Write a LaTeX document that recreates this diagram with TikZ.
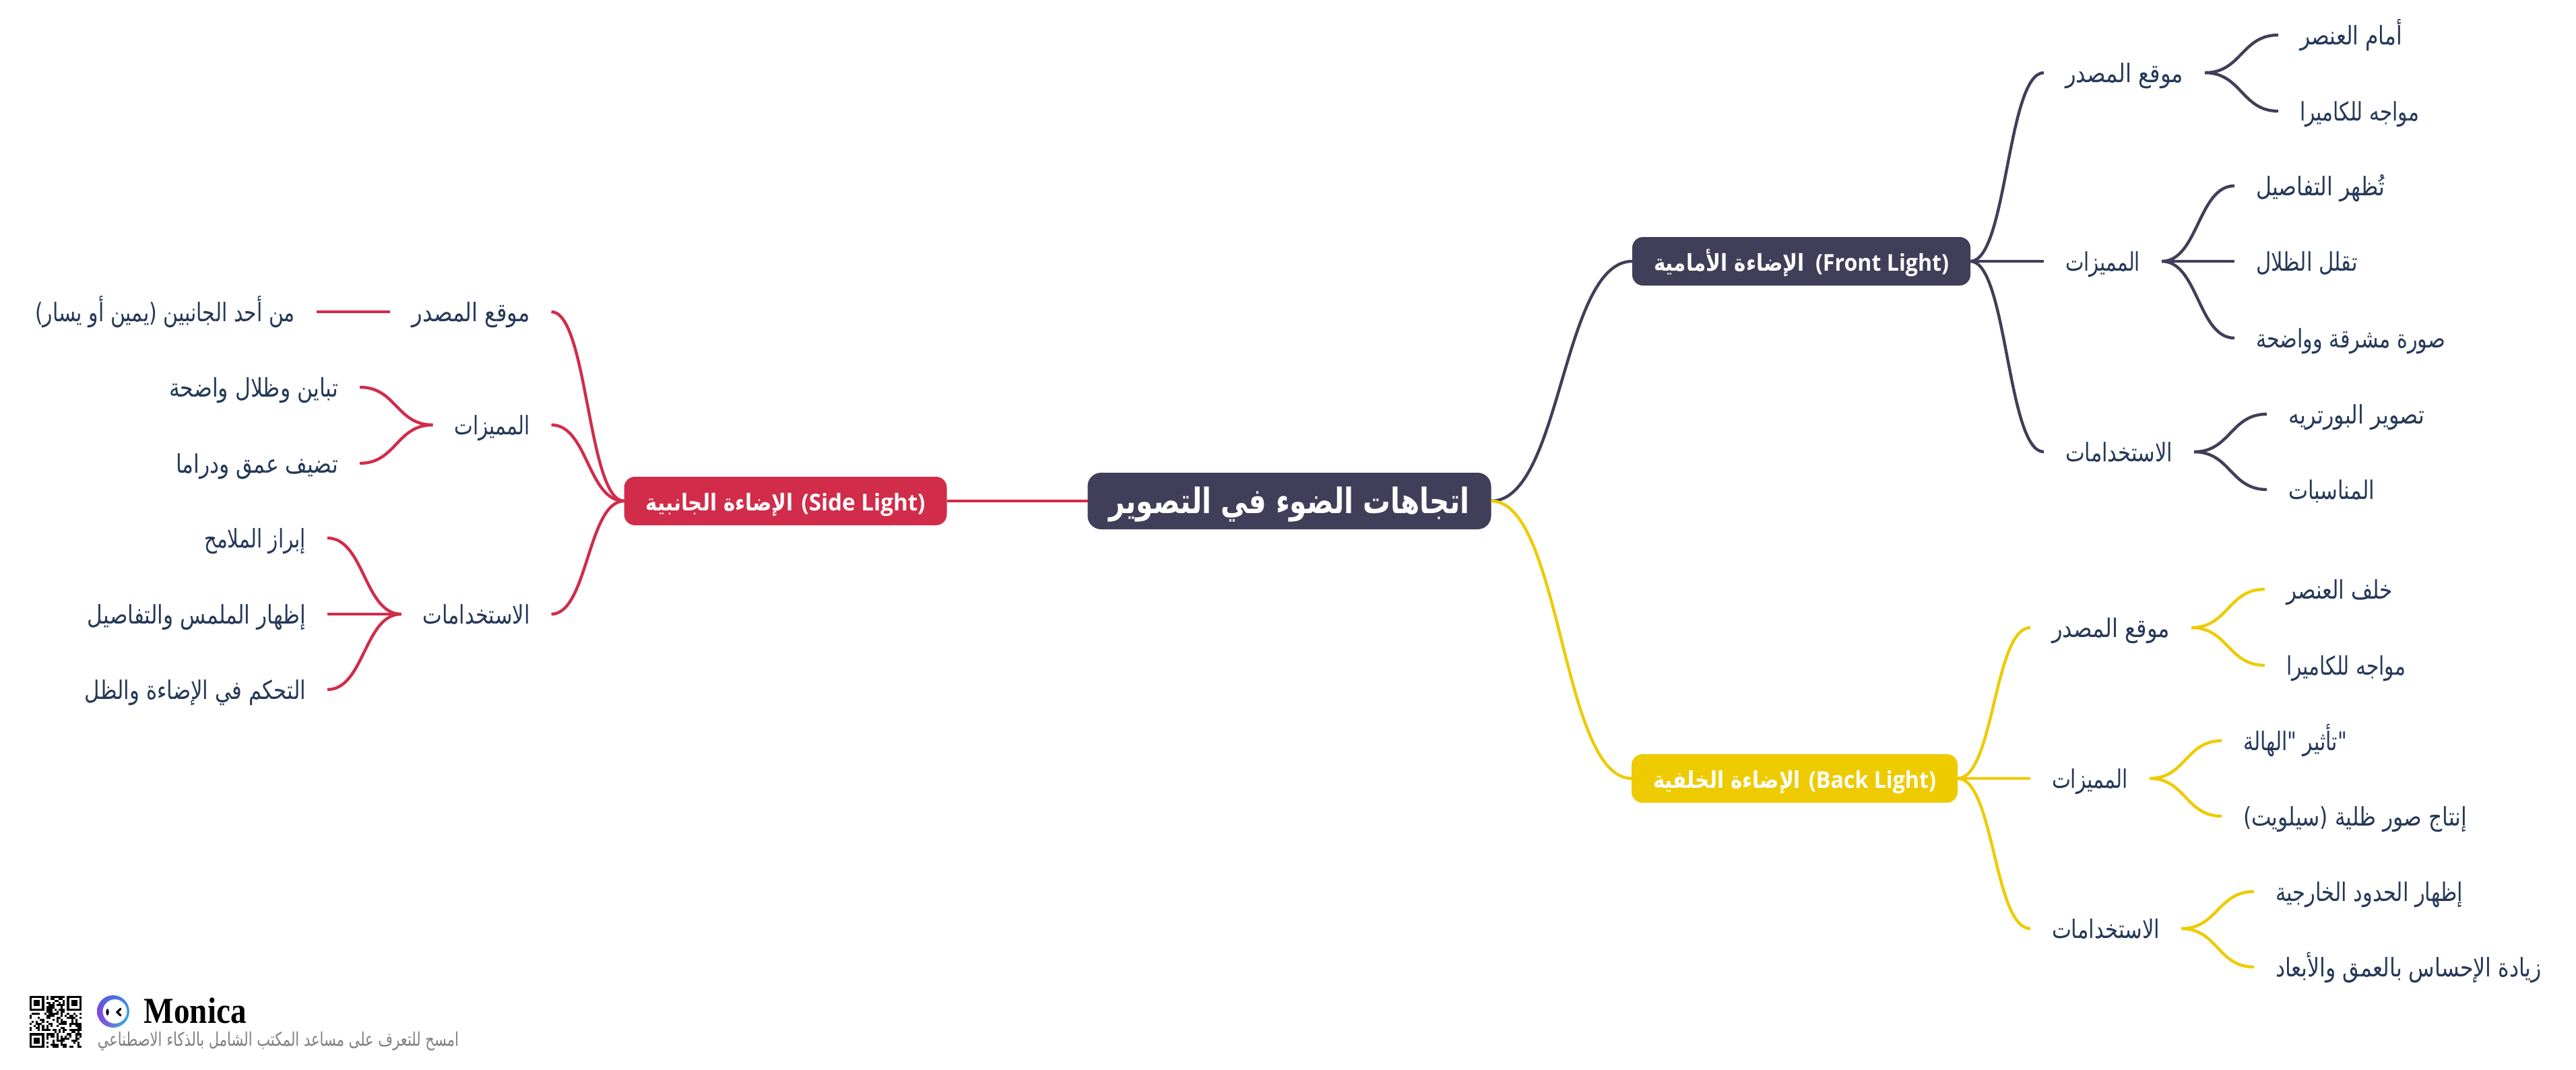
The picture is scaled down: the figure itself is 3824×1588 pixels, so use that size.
\documentclass[tikz,border=0pt]{standalone}
\usepackage{fontspec}
\usepackage{graphicx}
\usetikzlibrary{calc,shadings}
\TeXXeTstate=1
\setmainfont{Open Sans}
\newfontfamily\arabicfont[Script=Arabic]{DejaVu Sans}
\newfontfamily\serifbold{Liberation Serif}
\newcommand{\fitw}[2]{\resizebox{\dimexpr #1pt/4\relax}{\height}{#2}}
\newcommand{\arb}[1]{{\arabicfont\beginR #1\endR}}
\definecolor{navy}{HTML}{403E58}
\definecolor{crim}{HTML}{D12C4A}
\definecolor{gold}{HTML}{EECB00}
\definecolor{ink}{HTML}{253858}
\tikzset{
  link/.style={line width=1.1pt,draw=#1,to path={let \p1=(\tikztostart),\p2=(\tikztotarget),\n1={0.5*(\x1+\x2)} in .. controls (\n1,\y1) and (\n1,\y2) .. (\tikztotarget) \tikztonodes}},
  leaf/.style={inner xsep=8pt,inner ysep=0pt,outer sep=0pt,text=ink,font=\fontsize{9.5}{11}\selectfont,text height=10pt,text depth=3pt},
  main/.style={fill=#1,rounded corners=4pt,inner xsep=8pt,inner ysep=0pt,outer sep=0pt,minimum height=18pt,text=white,font=\fontsize{8.6}{10}\selectfont\bfseries,text height=10pt,text depth=3pt},
  rootbox/.style={fill=navy,rounded corners=5pt,inner xsep=8pt,inner ysep=0pt,outer sep=0pt,minimum height=21pt,text=white,font=\fontsize{13}{15}\selectfont\bfseries,text height=14pt,text depth=5pt},
}
\begin{document}
\begin{tikzpicture}[x=0.25pt,y=-0.25pt]
\useasboundingbox[fill=white] (0,0) rectangle (3824,1588);
% main nodes
\node[rootbox] (root) at (1914,744) {\fitw{535}{\arb{اتجاهات الضوء في التصوير}}};
\node[main=navy] (front) at (2674,388) {\fitw{224}{\arb{الإضاءة الأمامية}}\hspace{4pt}\fitw{198}{(Front Light)}};
\node[main=gold] (back) at (2664,1156) {\fitw{219}{\arb{الإضاءة الخلفية}}\hspace{3pt}\fitw{189}{(Back Light)}};
\node[main=crim] (side) at (1166,744) {\fitw{219}{\arb{الإضاءة الجانبية}}\hspace{3pt}\fitw{184}{(Side Light)}};
% front
\node[leaf,anchor=west] (f1) at (3034,108) {\fitw{175}{\arb{موقع المصدر}}};
\node[leaf,anchor=west] (f1a) at (3382,52) {\fitw{152}{\arb{أمام العنصر}}};
\node[leaf,anchor=west] (f1b) at (3382,165) {\fitw{177}{\arb{مواجه للكاميرا}}};
\node[leaf,anchor=west] (f2) at (3034,388) {\fitw{111}{\arb{المميزات}}};
\node[leaf,anchor=west] (f2a) at (3317,276) {\fitw{191}{\arb{تُظهر التفاصيل}}};
\node[leaf,anchor=west] (f2b) at (3317,388) {\fitw{151}{\arb{تقلل الظلال}}};
\node[leaf,anchor=west] (f2c) at (3317,502) {\fitw{281}{\arb{صورة مشرقة وواضحة}}};
\node[leaf,anchor=west] (f3) at (3034,671) {\fitw{159}{\arb{الاستخدامات}}};
\node[leaf,anchor=west] (f3a) at (3365,615) {\fitw{202}{\arb{تصوير البورتريه}}};
\node[leaf,anchor=west] (f3b) at (3365,727) {\fitw{128}{\arb{المناسبات}}};
% back
\node[leaf,anchor=west] (b1) at (3014,932) {\fitw{175}{\arb{موقع المصدر}}};
\node[leaf,anchor=west] (b1a) at (3362,875) {\fitw{158}{\arb{خلف العنصر}}};
\node[leaf,anchor=west] (b1b) at (3362,988) {\fitw{177}{\arb{مواجه للكاميرا}}};
\node[leaf,anchor=west] (b2) at (3014,1156) {\fitw{113}{\arb{المميزات}}};
\node[leaf,anchor=west] (b2a) at (3298,1100) {\fitw{154}{\arb{تأثير "الهالة}{\arabicfont"}}};
\node[leaf,anchor=west] (b2b) at (3298,1212) {\fitw{332}{\arb{إنتاج صور ظلية (سيلويت)}}};
\node[leaf,anchor=west] (b3) at (3014,1379) {\fitw{160}{\arb{الاستخدامات}}};
\node[leaf,anchor=west] (b3a) at (3346,1324) {\fitw{278}{\arb{إظهار الحدود الخارجية}}};
\node[leaf,anchor=west] (b3b) at (3346,1436) {\fitw{395}{\arb{زيادة الإحساس بالعمق والأبعاد}}};
% side
\node[leaf,anchor=east] (s1) at (818.5,463) {\fitw{175}{\arb{موقع المصدر}}};
\node[leaf,anchor=east] (s1a) at (470,463) {\fitw{386}{\arb{من أحد الجانبين (يمين أو يسار)}}};
\node[leaf,anchor=east] (s2) at (818.5,631) {\fitw{112}{\arb{المميزات}}};
\node[leaf,anchor=east] (s2a) at (534,575) {\fitw{251}{\arb{تباين وظلال واضحة}}};
\node[leaf,anchor=east] (s2b) at (534,688) {\fitw{241}{\arb{تضيف عمق ودراما}}};
\node[leaf,anchor=east] (s3) at (818.5,912) {\fitw{159}{\arb{الاستخدامات}}};
\node[leaf,anchor=east] (s3a) at (486,799) {\fitw{151}{\arb{إبراز الملامح}}};
\node[leaf,anchor=east] (s3b) at (486,912) {\fitw{324}{\arb{إظهار الملمس والتفاصيل}}};
\node[leaf,anchor=east] (s3c) at (486,1024) {\fitw{328}{\arb{التحكم في الإضاءة والظل}}};
% connectors
\foreach \p/\c in {root/front,front/f1,front/f2,front/f3,f1/f1a,f1/f1b,f2/f2a,f2/f2b,f2/f2c,f3/f3a,f3/f3b}
  \draw[link=navy] (\p.east) to (\c.west);
\foreach \p/\c in {root/back,back/b1,back/b2,back/b3,b1/b1a,b1/b1b,b2/b2a,b2/b2b,b3/b3a,b3/b3b}
  \draw[link=gold] (\p.east) to (\c.west);
\foreach \p/\c in {root/side,side/s1,side/s2,side/s3,s1/s1a,s2/s2a,s2/s2b,s3/s3a,s3/s3b,s3/s3c}
  \draw[link=crim] (\p.west) to (\c.east);
% footer: QR code
\pgfmathsetseed{11}
\begin{scope}[shift={(44,1479)}]
\foreach \i in {0,...,24}{\foreach \j in {0,...,24}{
  \pgfmathparse{((\i<8&&\j<8)||(\i>16&&\j<8)||(\i<8&&\j>16))?0:(rnd>0.48?1:0)}
  \pgfmathtruncatemacro{\qbit}{\pgfmathresult}
  \ifnum\qbit>0 \fill[black] ({\i*3.08},{\j*3.08}) rectangle ++(3.08,3.08);\fi
}}
\foreach \a/\b in {0/0,55.44/0,0/55.44}{
  \fill[black] (\a,\b) rectangle ++(21.56,21.56);
  \fill[white] ({\a+3.08},{\b+3.08}) rectangle ++(15.4,15.4);
  \fill[black] ({\a+6.16},{\b+6.16}) rectangle ++(9.24,9.24);
}
\end{scope}
% footer: logo
\definecolor{ringa}{HTML}{5A55E0}
\definecolor{ringb}{HTML}{3F86E8}
\definecolor{ringc}{HTML}{9A3CDC}
\definecolor{ringd}{HTML}{2FC0DC}
\begin{scope}[even odd rule]
\clip (168,1502) circle [radius=24] (170.5,1502) circle [radius=18];
\shade[upper left=ringa,upper right=ringb,lower left=ringc,lower right=ringd] (144,1478) rectangle (192,1526);
\end{scope}
\fill[black] (159.5,1503) ellipse [x radius=2.2,y radius=5];
\draw[black,line width=0.8pt,line cap=round] (179,1498) -- (174,1503) -- (179,1508);
\node[anchor=base west,inner sep=0pt,font=\serifbold\bfseries\fontsize{13.6}{15}\selectfont] (brand) at (213,1519.5) {\fitw{152}{Monica}};
\node[anchor=base west,inner sep=0pt,text=gray,font=\fontsize{7}{8}\selectfont] (slogan) at (144,1553) {\fitw{536}{\arb{امسح للتعرف على مساعد المكتب الشامل بالذكاء الاصطناعي}}};
\end{tikzpicture}
\end{document}
